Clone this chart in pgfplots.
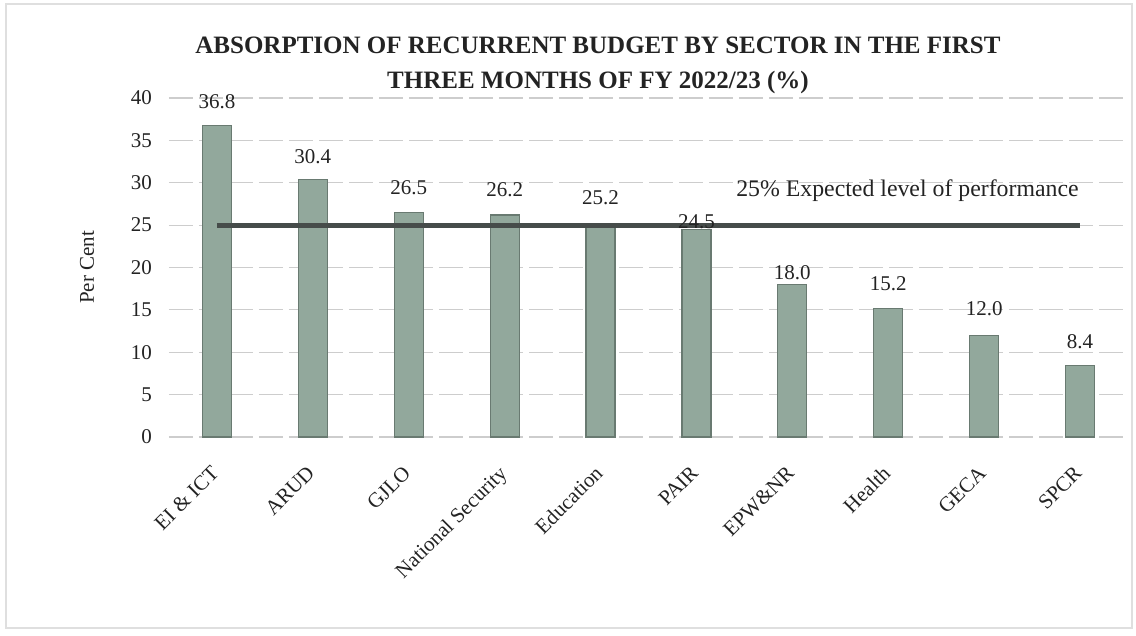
\documentclass[border=0pt]{standalone}
\usepackage{pgfplots}
\pgfplotsset{compat=1.18}
\usepackage{pgfplotstable}
\usepackage{fontspec}
\setmainfont{Liberation Serif}
\definecolor{barfill}{RGB}{146,168,156}
\definecolor{baredge}{RGB}{105,122,113}
\definecolor{refline}{RGB}{70,76,74}
\definecolor{txt}{RGB}{35,35,35}
\definecolor{gridc}{RGB}{205,205,205}
\pgfplotstableread{
x y s
0 36.8 4.6
1 30.4 4.2
2 26.5 5.3
3 26.2 5.3
4 25.2 5.8
5 24.5 -3.4
6 18.0 -1.4
7 15.2 5.0
8 12.0 6.0
9 8.4 5.0
}\datatable
\begin{document}
\begin{tikzpicture}
\path[use as bounding box] (0,0) rectangle (568pt,318pt);
\draw[gray!25, line width=0.6pt] (3pt,4pt) rectangle (566pt,316pt);
\node[font=\bfseries\fontsize{12.5}{17.5}\selectfont, text=txt, align=center] at (299pt,285.5pt)
  {ABSORPTION OF RECURRENT BUDGET BY SECTOR IN THE FIRST\\THREE MONTHS OF FY 2022/23 (\%)};
\begin{axis}[
  at={(84.5pt,99.5pt)}, anchor=south west,
  scale only axis, width=479.5pt, height=169.5pt,
  xmin=-0.5, xmax=9.5, ymin=0, ymax=40,
  axis line style={draw=none},
  tick style={draw=none},
  clip=false,
  ytick={0,5,...,40},
  xtick={0,...,9},
  xticklabels={EI \& ICT, ARUD, GJLO, National Security, Education, PAIR, EPW\&NR, Health, GECA, SPCR},
  ymajorgrids,
  grid style={gridc, line width=0.6pt, dash pattern=on 12pt off 3pt},
  major tick length=0pt,
  tick label style={font=\fontsize{10.5}{12}\selectfont, text=txt},
  /pgf/number format/assume math mode=true,
  yticklabel style={anchor=east, xshift=-5pt},
  xticklabel style={rotate=45, anchor=north east, xshift=-8.7pt, yshift=-3.75pt},
  ylabel={Per Cent},
  every axis y label/.style={at={(axis description cs:0,0.5)}, rotate=90, anchor=center, yshift=41pt, font=\fontsize{10.5}{12}\selectfont, text=txt},
]
\addplot[ybar, bar width=14.5pt, fill=barfill, draw=baredge, line width=0.6pt,
  nodes near coords,
  visualization depends on={\thisrow{s} \as \myshift},
  every node near coord/.append style={font=\fontsize{10.5}{12}\selectfont, text=txt, yshift=\myshift pt,
    /pgf/number format/fixed, /pgf/number format/fixed zerofill, /pgf/number format/precision=1,
    /pgf/number format/assume math mode=true}
] table[x=x, y=y] {\datatable};
\addplot[refline, line width=2.6pt] coordinates {(0,25) (9,25)};
\node[font=\fontsize{11.9}{14}\selectfont, text=txt] at (axis cs:7.2,29.1) {25\% Expected level of performance};
\end{axis}
\end{tikzpicture}
\end{document}
